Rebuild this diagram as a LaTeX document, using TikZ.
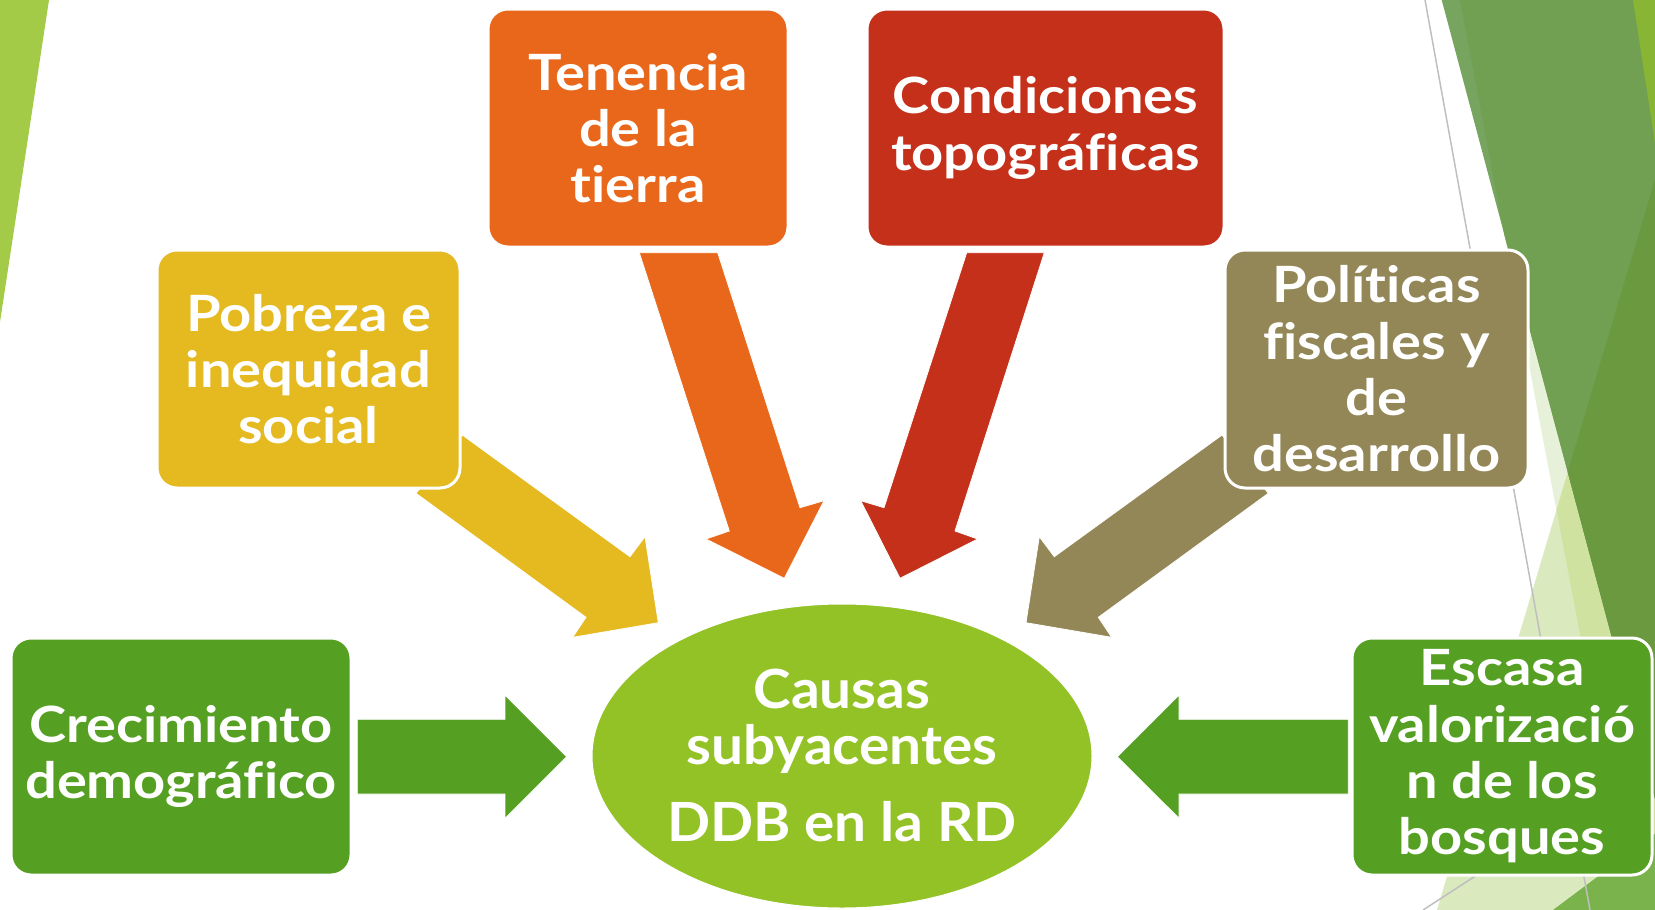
\documentclass[tikz,border=0pt]{standalone}
\usepackage{fontspec}
\setmainfont{Lato}[Ligatures=NoCommon]
\newfontfamily\boxfont{Lato}[Ligatures=NoCommon, FakeStretch=1.12]
\newfontfamily\ellfont{Lato}[Ligatures=NoCommon, FakeStretch=1.05]
\usetikzlibrary{shapes.geometric}
\definecolor{cgreen}{HTML}{55A022}
\definecolor{cyellow}{HTML}{E5B920}
\definecolor{corange}{HTML}{E8671A}
\definecolor{cred}{HTML}{C5301B}
\definecolor{colive}{HTML}{938757}
\definecolor{cell}{HTML}{93C227}
\definecolor{bgleft}{HTML}{A3CB48}
\definecolor{bgA}{HTML}{77A45E}
\definecolor{bgAA}{HTML}{71A052}
\definecolor{bgAC}{HTML}{6A993F}
\definecolor{bgC}{HTML}{DAE9BE}
\definecolor{bgCA}{HTML}{CFE2A0}
\definecolor{bgAt}{HTML}{E7F0D8}
\definecolor{bgbright}{HTML}{88B634}
\definecolor{bgE}{HTML}{7AB24B}
\definecolor{bgline}{HTML}{BFBFBF}
\tikzset{
  box/.style={rectangle, rounded corners=20pt, draw=white, line width=3pt,
    text=white, font=\boxfont\bfseries\fontsize{50}{56.3}\selectfont, align=center, inner sep=0pt},
  blockarrow/.style={draw=white, line width=0.8pt},
  etext/.style={text=white, font=\ellfont\bfseries\fontsize{54}{56}\selectfont, align=center, inner sep=0pt},
  bgrule/.style={draw=bgline, line width=1.5pt}
}
\begin{document}
\begin{tikzpicture}[x=1pt,y=-1pt]
\useasboundingbox (0,0) rectangle (1655,910);
% background decoration
\begin{scope}
\clip (0,0) rectangle (1655,910);
\fill[bgleft] (0,0) -- (49,0) -- (0,322) -- cycle;
\fill[bgC] (1437,910) -- (1655,180) -- (1700,180) -- (1700,910) -- cycle;
\fill[bgAt] (1460,0) -- (1700,0) -- (1700,910) -- (1632,910) -- cycle;
\begin{scope}
\clip (1437,910) -- (1655,180) -- (1700,180) -- (1700,910) -- cycle;
\fill[bgCA] (1460,0) -- (1700,0) -- (1700,910) -- (1632,910) -- cycle;
\end{scope}
\fill[bgA] (1441.7,0) -- (1708.7,1000) -- (1800,1000) -- (1800,0) -- cycle;
\begin{scope}
\clip (1441.7,0) -- (1708.7,1000) -- (1800,1000) -- (1800,0) -- cycle;
\fill[bgAA] (1460,0) -- (1700,0) -- (1700,910) -- (1632,910) -- cycle;
\clip (1437,910) -- (1655,180) -- (1700,180) -- (1700,910) -- cycle;
\fill[bgAC] (1400,0) rectangle (1700,910);
\end{scope}
\fill[bgbright] (1633,0) -- (1660,0) -- (1660,143) -- (1655,143) -- cycle;
\fill[bgE] (1553,910) -- (1660,830) -- (1660,910) -- cycle;
\draw[bgrule] (1425,0) -- (1590,910);
\draw[bgrule] (1423,910) -- (1480,873);
\end{scope}
% block arrows
\fill[cgreen, blockarrow] (357.3,719.3) -- (505,719.3) -- (505,695) -- (566.7,756.7) -- (505,818.3) -- (505,794) -- (357.3,794) -- cycle;
\fill[cgreen, blockarrow] (1348.3,719.3) -- (1179,719.3) -- (1179,695) -- (1117.3,756.7) -- (1179,818.3) -- (1179,794) -- (1348.3,794) -- cycle;
\fill[cyellow, blockarrow] (462.3,435) -- (630,556.7) -- (645,536.7) -- (658.3,622.7) -- (572.7,637.3) -- (586,617.3) -- (416,493.3) -- cycle;
\fill[colive, blockarrow] (1222,435) -- (1054.3,556.7) -- (1039.3,536.7) -- (1026,622.7) -- (1111.6,637.3) -- (1098.3,617.3) -- (1268.3,493.3) -- cycle;
\fill[corange, blockarrow] (639.3,252.7) -- (717.7,252.7) -- (800,507.7) -- (824,500.7) -- (784.3,578.3) -- (706,539) -- (729.3,531) -- cycle;
\fill[cred, blockarrow] (1044.3,252.7) -- (966.7,252.7) -- (884,507.7) -- (860.7,500.7) -- (900,578.3) -- (977.7,539) -- (955,531) -- cycle;
% boxes
\node[box, fill=cgreen, minimum width=340pt, minimum height=237pt] (crec) at (181,756.5) {Crecimiento\\demográfico};
\node[box, fill=cyellow, minimum width=303pt, minimum height=238pt] (pob) at (308.5,369) {Pobreza e\\inequidad\\social};
\node[box, fill=corange, minimum width=300pt, minimum height=238pt] (ten) at (638,128) {Tenencia\\de la\\tierra};
\node[box, fill=cred, minimum width=357pt, minimum height=238pt] (cond) at (1045.5,128) {Condiciones\\topográficas};
\node[box, fill=colive, minimum width=303pt, minimum height=238pt] (pol) at (1376.5,369) {Políticas\\fiscales y\\de\\desarrollo};
\node[box, fill=cgreen, minimum width=300pt, minimum height=237pt] (esc) at (1502,756.5) {Escasa\\valorizació\\n de los\\bosques};
% centre
\node[ellipse, fill=cell, draw=white, line width=1pt, minimum width=500pt, minimum height=304pt, inner sep=0pt] (ell) at (842,756) {};
\node[etext] (elltxt) at (842,755) {Causas\\subyacentes\\[21pt]DDB en la RD};
\end{tikzpicture}
\end{document}
